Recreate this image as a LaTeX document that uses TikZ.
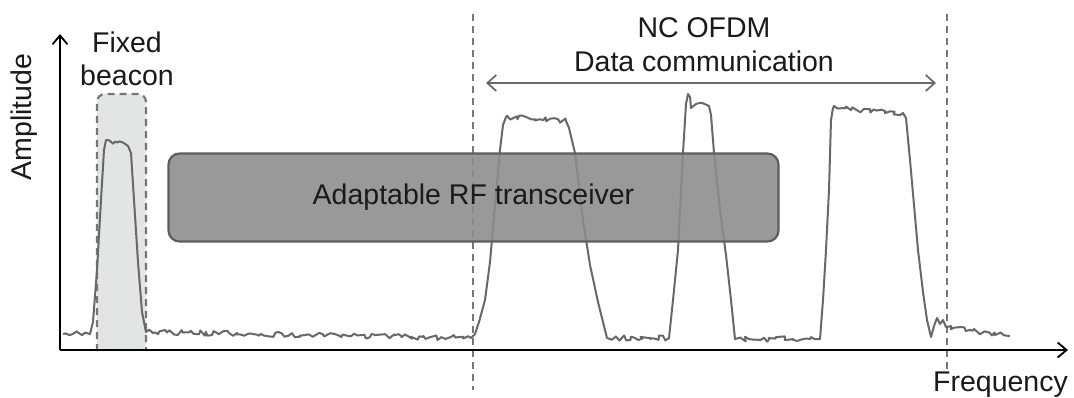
\documentclass[tikz,border=0pt]{standalone}
\usepackage{fontspec}
\setmainfont{Liberation Sans}
\usetikzlibrary{arrows.meta,decorations.pathmorphing}
\definecolor{sig}{HTML}{686868}
\definecolor{boxfill}{HTML}{8C8C8C}
\definecolor{boxedge}{HTML}{5E5E5E}
\definecolor{beaconfill}{HTML}{E2E5E5}
\definecolor{dashc}{HTML}{777777}
\definecolor{txt}{HTML}{1A1A1A}
\begin{document}
\begin{tikzpicture}[x=1pt,y=-1pt,
  lbl/.style={text=txt,inner sep=0pt,font=\fontsize{28.5}{33}\selectfont},
  axis/.style={line width=2.2pt,black,-{Straight Barb[length=9pt,width=15pt,line width=1.8pt]}},
  vdash/.style={dashc,line width=2.2pt,dash pattern=on 7pt off 5pt},
  signal/.style={sig,line width=2pt,line join=round},
  noise/.style={decoration={random steps,segment length=3pt,amplitude=2.6pt}},
  span/.style={sig,line width=2pt,{Straight Barb[length=9pt,width=16pt,line width=1.7pt]}-{Straight Barb[length=9pt,width=16pt,line width=1.7pt]}}]
\pgfmathsetseed{7}
\useasboundingbox (0,0) rectangle (1074,398);
\fill[white] (0,0) rectangle (1074,398);

% coordinates
\coordinate (o) at (60,350);
\coordinate (ytip) at (60,34);
\coordinate (xtip) at (1068,350);
\coordinate (ldtop) at (473,14);
\coordinate (ldbot) at (473,390);
\coordinate (rdtop) at (947,14);
\coordinate (rdbot) at (947,372);
\coordinate (al) at (486,83);
\coordinate (ar) at (936,83);

% beacon box
\fill[beaconfill,rounded corners=8pt] (97,351) -- (97,94) -- (146,94) -- (146,351) -- cycle;
\draw[vdash,rounded corners=8pt] (97,351) -- (97,94) -- (146,94) -- (146,351);

% dashed verticals
\draw[vdash] (ldtop) -- (ldbot);
\draw[vdash] (rdtop) -- (rdbot);

% signal
\draw[signal] (63,334)
  decorate[noise]{ -- (90,334)}
  -- (93,322) -- (97,270) -- (101,200) -- (104,150) -- (106,140)
  decorate[noise]{ -- (128,146)}
  -- (131,153) -- (134,200) -- (138,262) -- (142,312) -- (146,332)
  decorate[noise]{ -- (471,338)}
  -- (475,334) -- (479,322) -- (485,300) -- (490,262) -- (495,205) -- (500,150) -- (503,125) -- (506,117)
  decorate[noise]{ -- (566,121)}
  -- (569,128) -- (575,153) -- (583,220) -- (590,265) -- (598,302) -- (607,338)
  decorate[noise]{ -- (669,338)}
  -- (673,300) -- (678,250) -- (683,153) -- (686,104) -- (688,94) -- (690,97) -- (691,108) -- (696,104)
  decorate[noise]{ -- (709,106)}
  -- (711,115) -- (714,153) -- (720,210) -- (726,255) -- (731,300) -- (735,339)
  decorate[noise]{ -- (820,339)}
  -- (823,300) -- (826,250) -- (829,190) -- (831,120) -- (833,108)
  decorate[noise]{ -- (903,113)}
  -- (906,118) -- (910,160) -- (914,205) -- (918,250) -- (923,292) -- (927,320) -- (931,337) -- (934,326) -- (937,318) -- (940,324) -- (943,320) -- (946,327)
  decorate[noise]{ -- (1010,336)};

% adaptable box (semi-transparent over the signal)
\node[lbl,draw=boxedge,line width=2.2pt,fill=boxfill,fill opacity=0.88,text opacity=1,
  rounded corners=11pt,minimum width=610pt,minimum height=88pt] (rf) at (473.5,197.5) {Adaptable RF transceiver};

% axes
\draw[axis] (o) -- (ytip);
\draw[axis] (o) -- (xtip);

% span arrow
\draw[span] (al) -- (ar);

% labels
\node[lbl,anchor=north,align=center] (fixed) at (127,32) {Fixed\\beacon};
\node[lbl,anchor=north,align=center,font=\fontsize{28.5}{34}\selectfont] (nc) at (704,17) {NC OFDM\\Data communication};
\node[lbl,rotate=90] (amp) at (24,117) {Amplitude};
\node[lbl,anchor=base east] (freq) at (1068,391) {Frequency};
\end{tikzpicture}
\end{document}
